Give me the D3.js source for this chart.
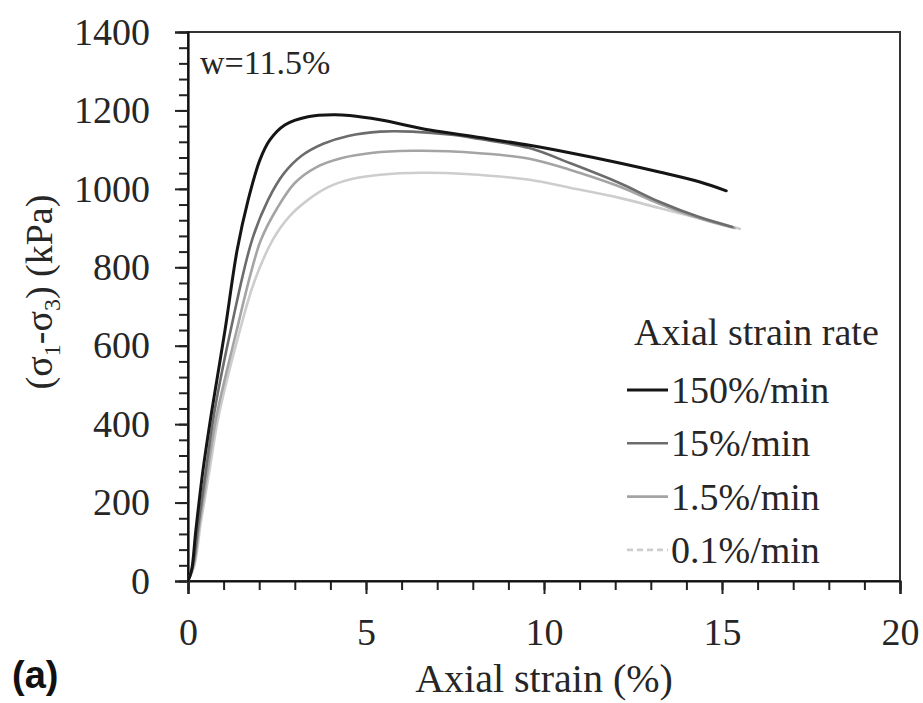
<!DOCTYPE html>
<html>
<head>
<meta charset="utf-8">
<script src="https://cdn.jsdelivr.net/npm/d3@7"></script>
<style>
  html, body { margin: 0; padding: 0; background: #fff; }
  svg { display: block; }
</style>
</head>
<body>
<svg id="chart" width="923" height="703"></svg>
<script>
// Stress–strain curves at water content w = 11.5 %, four axial strain rates
const rateLabels = ["150%/min", "15%/min", "1.5%/min", "0.1%/min"];

const strain150 = [0, 0.1, 0.22, 0.42, 0.67, 1.04, 1.38, 1.69, 2.02, 2.3, 2.72, 3.37, 4.1, 4.54, 5.39, 6.79, 8.19, 9.59, 10.72, 12.12, 13.24, 14.36, 15.12];
const stress150 = [0, 27, 129, 282, 435, 640, 844, 972, 1074, 1125, 1163, 1184, 1189, 1187, 1176, 1150, 1131, 1111, 1092, 1066, 1043, 1018, 995];

const strain15 = [0, 0.14, 0.3, 0.5, 0.74, 1.2, 1.8, 2.25, 2.7, 3.2, 3.8, 4.5, 5.4, 6.3, 7.4, 8.19, 9.59, 10.72, 12.12, 13.24, 14.36, 15.29];
const stress15 = [0, 40, 150, 280, 430, 640, 870, 972, 1040, 1085, 1115, 1135, 1146, 1146, 1138, 1127, 1104, 1066, 1015, 967, 928, 903];

const strain1_5 = [0, 0.16, 0.33, 0.55, 0.8, 1.37, 1.75, 2.05, 2.5, 3.0, 3.6, 4.3, 5.2, 6.3, 7.3, 8.19, 9.59, 10.72, 12.12, 13.24, 14.36, 15.35];
const stress1_5 = [0, 40, 150, 280, 420, 640, 780, 870, 950, 1015, 1055, 1078, 1092, 1097, 1096, 1091, 1077, 1049, 1006, 962, 925, 900];

const strain0_1 = [0, 0.18, 0.36, 0.6, 0.86, 1.46, 1.85, 2.38, 2.85, 3.37, 3.95, 4.6, 5.4, 6.6, 7.8, 9.59, 10.72, 12.12, 13.24, 14.36, 15.5];
const stress0_1 = [0, 40, 150, 280, 420, 640, 760, 870, 930, 972, 1005, 1025, 1036, 1041, 1038, 1023, 1003, 977, 951, 925, 898];

const xTicks = [0, 5, 10, 15, 20];
const yTicks = [0, 200, 400, 600, 800, 1000, 1200, 1400];

const seriesStrain = [strain150, strain15, strain1_5, strain0_1];
const seriesStress = [stress150, stress15, stress1_5, stress0_1];
const colors = ["#151515", "#6c6c6c", "#a4a4a4", "#cdcdcd"];
const widths = [3, 2.6, 2.6, 2.6];
const legendDash = [null, null, null, "6,4"];

const serif = "'Liberation Serif', 'Times New Roman', serif";
const textColor = "#262626";

const svg = d3.select("#chart");
const plotLeft = 188, plotRight = 900, plotTop = 32, plotBottom = 581;

const x = d3.scaleLinear().domain([0, 20]).range([plotLeft, plotRight]);
const y = d3.scaleLinear().domain([0, 1400]).range([plotBottom, plotTop]);

// frame
svg.append("rect")
  .attr("x", plotLeft).attr("y", plotTop)
  .attr("width", plotRight - plotLeft).attr("height", plotBottom - plotTop)
  .attr("fill", "none").attr("stroke", "#333").attr("stroke-width", 2);

// minor ticks
svg.append("g").attr("transform", `translate(0,${plotBottom})`)
  .call(d3.axisBottom(x).tickValues(d3.range(0, 21, 1)).tickSize(9).tickFormat(""))
  .call(g => g.select(".domain").remove())
  .call(g => g.selectAll("line").attr("stroke", "#222").attr("stroke-width", 2));
svg.append("g").attr("transform", `translate(${plotLeft},0)`)
  .call(d3.axisLeft(y).tickValues(d3.range(0, 1401, 40)).tickSize(9).tickFormat(""))
  .call(g => g.select(".domain").remove())
  .call(g => g.selectAll("line").attr("stroke", "#222").attr("stroke-width", 2));

// major ticks and labels
function styleAxis(g) {
  g.select(".domain").attr("stroke", "#111").attr("stroke-width", 2.2);
  g.selectAll("line").attr("stroke", "#222").attr("stroke-width", 2);
  g.selectAll("text").attr("font-size", 38).attr("font-family", serif).attr("fill", textColor);
}
svg.append("g").attr("transform", `translate(0,${plotBottom})`)
  .call(d3.axisBottom(x).tickValues(xTicks).tickSize(13).tickPadding(24).tickFormat(d3.format("d")))
  .call(styleAxis);
svg.append("g").attr("transform", `translate(${plotLeft},0)`)
  .call(d3.axisLeft(y).tickValues(yTicks).tickSize(13).tickPadding(25).tickFormat(d3.format("d")))
  .call(styleAxis);

// curves (lightest first so the darker ones sit on top)
const line = d3.line().x(d => x(d[0])).y(d => y(d[1])).curve(d3.curveCatmullRom.alpha(0.5));
for (let i = seriesStrain.length - 1; i >= 0; i--) {
  const pts = seriesStrain[i].map((e, j) => [e, seriesStress[i][j]]);
  svg.append("path").datum(pts)
    .attr("d", line)
    .attr("fill", "none")
    .attr("stroke", colors[i])
    .attr("stroke-width", widths[i])
    .attr("stroke-linejoin", "round")
    .attr("stroke-linecap", "round");
}

function label(xp, yp, size, str) {
  return svg.append("text").attr("x", xp).attr("y", yp)
    .attr("font-family", serif).attr("font-size", size).attr("fill", textColor).text(str);
}

// annotation
label(200, 74, 34, "w=11.5%");

// legend
label(634, 345, 38, "Axial strain rate");
rateLabels.forEach((lab, i) => {
  const base = 403 + i * 53.3;
  svg.append("line")
    .attr("x1", 627).attr("x2", 668)
    .attr("y1", base - 13).attr("y2", base - 13)
    .attr("stroke", colors[i]).attr("stroke-width", widths[i])
    .attr("stroke-dasharray", legendDash[i]);
  label(671, base, 38, lab);
});

// axis titles
label(544, 692, 40, "Axial strain (%)").attr("text-anchor", "middle");

const yt = svg.append("text")
  .attr("transform", "translate(52,292) rotate(-90)")
  .attr("font-family", serif).attr("fill", textColor)
  .attr("font-size", 38).attr("text-anchor", "middle");
yt.append("tspan").text("(σ");
yt.append("tspan").attr("font-size", 24).attr("dy", 8).text("1");
yt.append("tspan").attr("dy", -8).text("-σ");
yt.append("tspan").attr("font-size", 24).attr("dy", 8).text("3");
yt.append("tspan").attr("dy", -8).text(") (kPa)");

// panel tag
svg.append("text").attr("x", 12).attr("y", 688)
  .attr("font-family", "'Liberation Sans', Arial, sans-serif")
  .attr("font-weight", "bold").attr("font-size", 38).attr("fill", "#111").text("(a)");
</script>
</body>
</html>
